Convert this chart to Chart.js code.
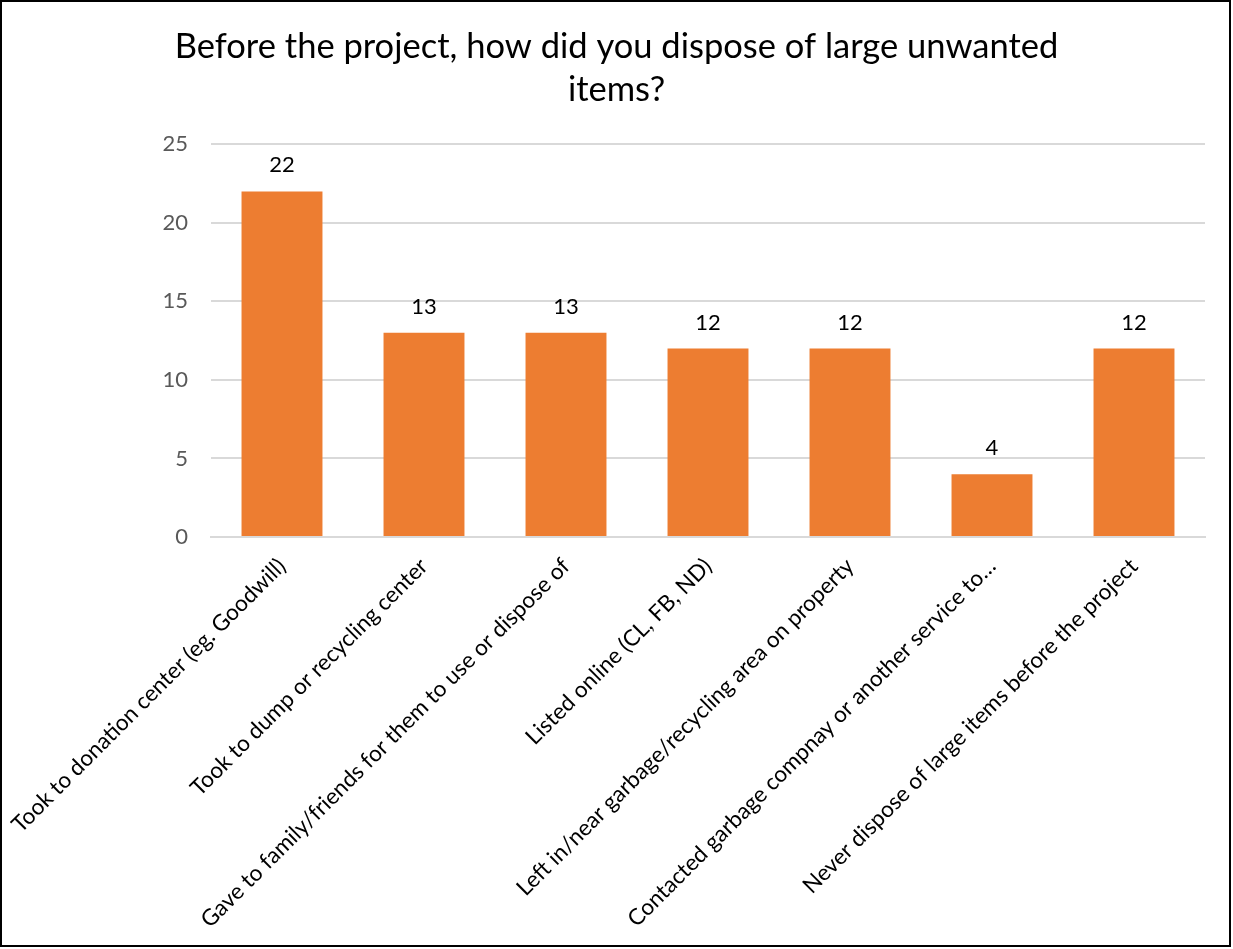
<!DOCTYPE html>
<html>
<head>
<meta charset="utf-8">
<title>Disposal of large unwanted items</title>
<script src="https://cdn.jsdelivr.net/npm/chart.js@4.4.1/dist/chart.umd.min.js"></script>
<style>
  html, body { margin: 0; padding: 0; background: #fff; }
  #frame {
    position: relative;
    width: 1233px;
    height: 949px;
  }
  #frame canvas { position: absolute; left: 0; top: 0; }
  #edge {
    position: absolute; left: 0; top: 0;
    width: 1231px; height: 947px;
    box-sizing: border-box;
    border: 2px solid #000;
    pointer-events: none;
  }
</style>
</head>
<body>
<div id="frame">
  <canvas id="chart" width="1233" height="949"></canvas>
  <div id="edge"></div>
</div>
<script>
// Survey answers and how many people gave each one
const answers = [
    'Took to donation center (eg. Goodwill)',
    'Took to dump or recycling center',
    'Gave to family/friends for them to use or dispose of',
    'Listed online (CL, FB, ND)',
    'Left in/near garbage/recycling area on property',
    'Contacted garbage compnay or another service to\u2026',
    'Never dispose of large items before the project'
];
const counts = [22, 13, 13, 12, 12, 4, 12];
const yTicks = [0, 5, 10, 15, 20, 25];

const titleLines = ['Before the project, how did you dispose of large unwanted', 'items?'];
const FONT = "Lato, 'Open Sans', sans-serif";

// Writes each bar's value just above it
const valueLabels = {
    id: 'valueLabels',
    afterDatasetsDraw(chart) {
        const ctx = chart.ctx;
        const meta = chart.getDatasetMeta(0);
        ctx.save();
        ctx.font = '22px ' + FONT;
        ctx.fillStyle = '#000';
        ctx.textAlign = 'center';
        ctx.textBaseline = 'middle';
        meta.data.forEach(function (bar, i) {
            ctx.fillText(String(counts[i]), bar.x, bar.y - 26);
        });
        ctx.restore();
    }
};

new Chart(document.getElementById('chart'), {
    type: 'bar',
    data: {
        labels: answers,
        datasets: [{
            data: counts,
            backgroundColor: '#ED7D31',
            borderWidth: 0,
            barPercentage: 0.57,
            categoryPercentage: 1
        }]
    },
    options: {
        responsive: false,
        animation: false,
        layout: { padding: { left: 0, right: 0, top: 0, bottom: 3 } },
        plugins: {
            legend: { display: false },
            tooltip: { enabled: false },
            title: {
                display: true,
                text: titleLines,
                color: '#000',
                font: { family: FONT, size: 34.5, weight: 'normal', lineHeight: 1.25 },
                padding: { top: 25, bottom: 33 }
            }
        },
        scales: {
            x: {
                grid: { display: false, drawTicks: false },
                border: { display: true, color: '#d9d9d9', width: 2 },
                ticks: {
                    autoSkip: false,
                    minRotation: 45,
                    maxRotation: 45,
                    padding: 16,
                    color: '#000',
                    font: { family: FONT, size: 22.5 }
                },
                afterFit(scale) {
                    // fixed band for the slanted labels; keep the plot from shifting sideways
                    scale.height = 409;
                    scale.paddingLeft = 0;
                    scale.paddingRight = 28;
                }
            },
            y: {
                min: 0,
                max: 25,
                afterBuildTicks(scale) {
                    scale.ticks = yTicks.map(function (v) { return { value: v }; });
                },
                grid: { color: '#d9d9d9', lineWidth: 2, drawTicks: false },
                border: { display: false },
                ticks: {
                    padding: 23,
                    color: '#595959',
                    font: { family: FONT, size: 22 }
                },
                afterFit(scale) { scale.width = 211; }
            }
        }
    },
    plugins: [valueLabels]
});
</script>
</body>
</html>
